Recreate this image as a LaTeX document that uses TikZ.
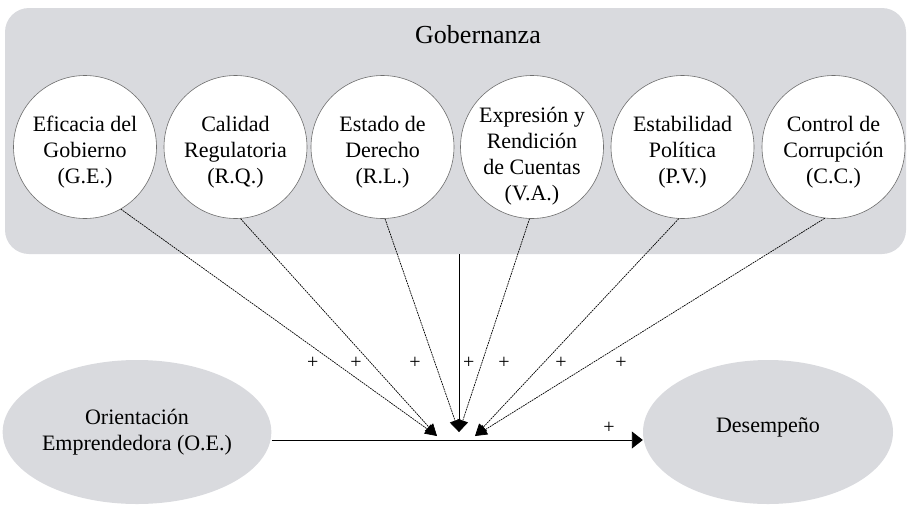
\documentclass[tikz,border=0pt]{standalone}
\usepackage{fontspec}
\setmainfont{Liberation Serif}
\usetikzlibrary{arrows.meta,shapes.geometric}
\definecolor{panel}{RGB}{217,218,222}
\definecolor{ring}{RGB}{110,110,110}
\begin{document}
\begin{tikzpicture}[x=1pt,y=-1pt,
  circ/.style={circle, draw=ring, line width=0.6pt, fill=white, minimum size=143pt, inner sep=0pt},
  ctext/.style={align=center, font=\fontsize{22}{26}\selectfont, inner sep=0pt},
  oval/.style={ellipse, fill=panel, minimum width=250pt, minimum height=144pt, inner sep=0pt, align=center, font=\fontsize{22}{26.5}\selectfont},
  dotarrow/.style={line width=0.7pt, dash pattern=on 1.8pt off 0.8pt, -{Triangle[length=12pt,width=11pt]}},
  plus/.style={font=\fontsize{20}{20}\selectfont, inner sep=0pt}
]
\useasboundingbox (0,0) rectangle (907,504);
% governance panel
\node[fill=panel, rounded corners=24pt, minimum width=901pt, minimum height=246pt, inner sep=0pt] (gob) at (455.5,131) {};
\node[anchor=base, font=\fontsize{26}{30}\selectfont, inner sep=0pt] (title) at (478,43) {Gobernanza};
% circles
\node[circ] (ge) at (85,147) {};
\node[circ] (rq) at (235.5,147) {};
\node[circ] (rl) at (382.5,147) {};
\node[circ] (va) at (532,147) {};
\node[circ] (pv) at (682.5,147) {};
\node[circ] (cc) at (833.5,147) {};
\node[ctext] (get) at (85,152) {Eficacia del\\Gobierno\\(G.E.)};
\node[ctext] (rqt) at (235.5,152) {Calidad\\Regulatoria\\(R.Q.)};
\node[ctext] (rlt) at (382.5,152) {Estado de\\Derecho\\(R.L.)};
\node[ctext] (vat) at (532,156) {Expresión y\\Rendición\\de Cuentas\\(V.A.)};
\node[ctext] (pvt) at (682.5,152) {Estabilidad\\Política\\(P.V.)};
\node[ctext] (cct) at (833.5,152) {Control de\\Corrupción\\(C.C.)};
% outcome ellipses
\node[oval] (oe) at (137,432) {Orientación\\Emprendedora (O.E.)};
\node[oval, text depth=13.6pt] (des) at (768,432) {Desempeño};
% convergence points
\coordinate (tl) at (437,436);
\coordinate (tm) at (459,432);
\coordinate (tr) at (475,436);
% connectors
\draw[dotarrow] (ge.-60) -- (tl);
\draw[dotarrow] (rq.-86) -- (tl);
\draw[dotarrow] (rl.-88) -- (tm);
\draw[dotarrow] (va.-92) -- (tm);
\draw[dotarrow] (pv.-93) -- (tr);
\draw[dotarrow] (cc.-97) -- (tr);
\draw[line width=0.9pt, -{Triangle[length=10pt,width=14pt]}] (tm |- gob.south) -- (tm);
\draw[line width=0.9pt, -{Triangle[length=11pt,width=17pt]}] ([yshift=-8pt]oe.east) -- ([yshift=-8pt]des.west);
% signs
\node[plus] (p1) at (312.7,363) {+};
\node[plus] (p2) at (356,363) {+};
\node[plus] (p3) at (415,363) {+};
\node[plus] (p4) at (468.7,363) {+};
\node[plus] (p5) at (504,363) {+};
\node[plus] (p6) at (561,363) {+};
\node[plus] (p7) at (621,363) {+};
\node[plus] (p8) at (609,428) {+};
\end{tikzpicture}
\end{document}
